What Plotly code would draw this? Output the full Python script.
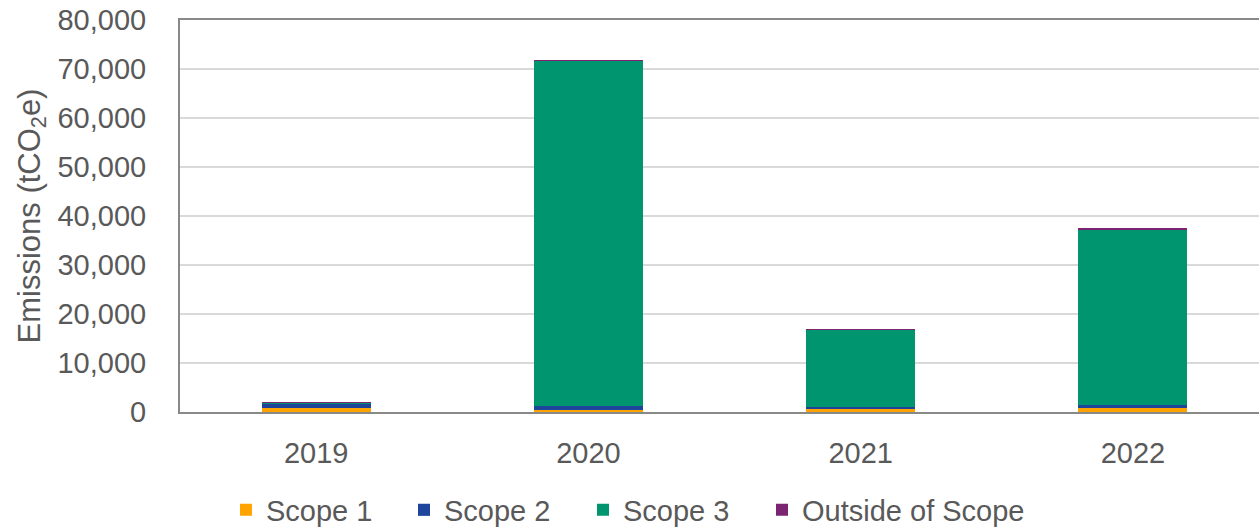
import plotly.graph_objects as go

years = ["2019", "2020", "2021", "2022"]
scope1 = [850, 480, 600, 880]
scope2 = [800, 750, 450, 500]
scope3 = [250, 70450, 15800, 35950]
outside = [40, 80, 60, 80]

series = [
    ("Scope 1", scope1, "#FFA300"),
    ("Scope 2", scope2, "#1F449C"),
    ("Scope 3", scope3, "#00956E"),
    ("Outside of Scope", outside, "#7A2472"),
]
legend_x = [0.0426, 0.2076, 0.3735, 0.5394]

font = "Liberation Sans, Arial, sans-serif"
FS = 29
fig = go.Figure()
layout_legends = {}
for i, ((name, vals, col), lx) in enumerate(zip(series, legend_x)):
    key = "legend" if i == 0 else f"legend{i+1}"
    fig.add_trace(go.Bar(name=name, x=years, y=vals, legend=key,
                         marker=dict(color=col, line=dict(width=0))))
    layout_legends[key] = dict(orientation="h", x=lx, xanchor="left", y=-0.25, yanchor="middle",
                               font=dict(size=FS, color="#595959"), itemwidth=30,
                               bgcolor="rgba(0,0,0,0)")

fig.update_layout(
    barmode="stack",
    bargap=0.6,
    width=1259, height=529,
    margin=dict(l=180, r=0, t=20, b=117, autoexpand=False),
    plot_bgcolor="white", paper_bgcolor="white",
    font=dict(family=font, size=FS, color="#595959"),
    showlegend=True,
    **layout_legends,
)
fig.update_xaxes(range=[-0.5, 3.463], showline=True, linecolor="#898989", linewidth=2,
                 mirror=True, ticks="", automargin=False, ticklabelstandoff=14,
                 tickfont=dict(size=FS, color="#595959"))
fig.update_yaxes(range=[0, 80000], dtick=10000, tickformat=",", showgrid=True,
                 gridcolor="#D9D9D9", gridwidth=1.5, showline=True, linecolor="#898989",
                 linewidth=2, ticks="", zeroline=False, automargin=False, ticklabelstandoff=26,
                 title=dict(text="Emissions (tCO<sub>2</sub>e)", font=dict(size=31, color="#595959"), standoff=8),
                 tickfont=dict(size=FS, color="#595959"))
fig.write_html("out.html", config={"displayModeBar": False},
               post_script="document.body.style.margin='0';")
